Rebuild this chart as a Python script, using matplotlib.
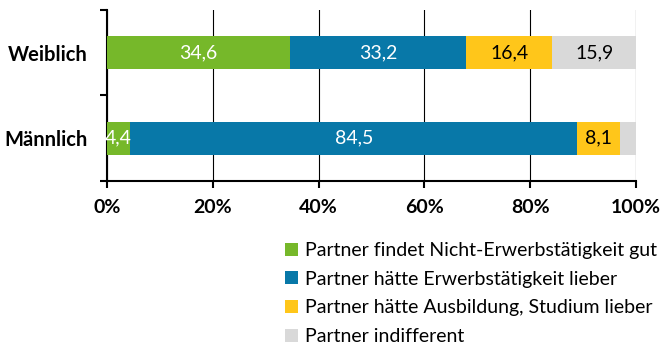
import matplotlib.pyplot as plt
from matplotlib.patches import Patch

plt.rcParams['font.family'] = ['Lato', 'DejaVu Sans']

# Anteile in Prozent
groups = ['Männlich', 'Weiblich']
series = [
    'Partner findet Nicht-Erwerbstätigkeit gut',
    'Partner hätte Erwerbstätigkeit lieber',
    'Partner hätte Ausbildung, Studium lieber',
    'Partner indifferent',
]
values = [
    [4.4, 34.6],
    [84.5, 33.2],
    [8.1, 16.4],
    [3.0, 15.9],
]
show_label = [
    [True, True],
    [True, True],
    [True, True],
    [False, True],
]
colors = ['#76B82A', '#0878A8', '#FFC61A', '#D9D9D9']
text_colors = ['white', 'white', 'black', 'black']
xticks = [0, 20, 40, 60, 80, 100]
xticklabels = ['0%', '20%', '40%', '60%', '80%', '100%']

fig = plt.figure(figsize=(6.63, 3.48), dpi=100)
ax = fig.add_axes([0.1614, 0.4799, 0.7979, 0.4914])

ypos = range(len(groups))
left = [0.0] * len(groups)
for i, (vals, col) in enumerate(zip(values, colors)):
    ax.barh(ypos, vals, left=left, height=0.39, color=col, zorder=3)
    for j, v in enumerate(vals):
        if show_label[i][j]:
            ax.text(left[j] + v / 2, j, f'{v:.1f}'.replace('.', ','),
                    ha='center', va='center', color=text_colors[i],
                    fontsize=14, zorder=4)
    left = [l + v for l, v in zip(left, vals)]

ax.set_xlim(0, 100)
ax.set_ylim(-0.5, 1.5)
ax.set_xticks(xticks)
ax.set_xticklabels(xticklabels, fontsize=14, fontweight='bold')
ax.set_yticks(list(ypos))
ax.set_yticklabels(groups, fontsize=14.5, fontweight='bold')
ax.set_yticks([-0.5, 0.5, 1.5], minor=True)
ax.tick_params(axis='y', which='major', length=0, pad=14)
ax.tick_params(axis='y', which='minor', length=5, width=1.5)
ax.tick_params(axis='x', length=5, width=1.5, pad=8)

ax.grid(axis='x', color='black', linewidth=0.8, zorder=0)
for side in ['top', 'right']:
    ax.spines[side].set_visible(False)
ax.spines['left'].set_linewidth(1.5)
ax.spines['bottom'].set_linewidth(1.5)

handles = [Patch(facecolor=c, edgecolor='none') for c in colors]
fig.legend(handles, series, loc='lower left', bbox_to_anchor=(0.413, -0.025),
           frameon=False, fontsize=14, handlelength=0.65, handleheight=0.65,
           handletextpad=0.35, labelspacing=0.6, borderaxespad=0.2)

fig.savefig('out.png', dpi=100)
